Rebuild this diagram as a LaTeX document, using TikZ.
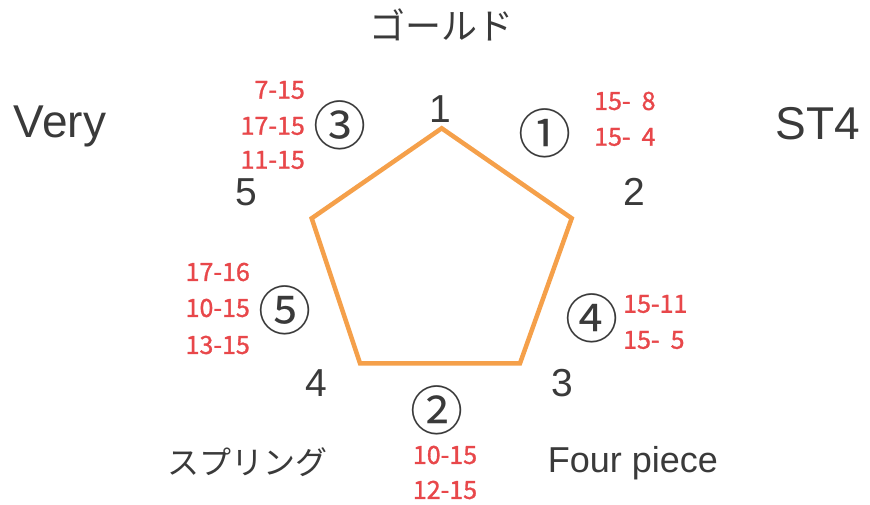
\documentclass[tikz,border=0pt]{standalone}
\usepackage{fontspec}
\setmainfont{Liberation Sans}
\newfontfamily\jpfont{Noto Sans CJK JP}
\newfontfamily\redfont[FakeBold=1.2]{Noto Sans CJK JP}
\definecolor{txtgray}{HTML}{3A3A3A}
\definecolor{scorered}{HTML}{E8474A}
\definecolor{penta}{HTML}{F5A04A}
\newcommand{\gapsp}{\hspace{11pt}}
\begin{document}
\begin{tikzpicture}[x=1pt,y=-1pt,
  big/.style={font=\fontsize{46}{46}\selectfont, text=txtgray, inner sep=0pt},
  num/.style={font=\fontsize{39}{39}\selectfont, text=txtgray, inner sep=0pt},
  circ/.style={font=\jpfont\fontsize{53}{53}\selectfont, text=txtgray, inner sep=0pt},
  jp/.style={font=\jpfont\fontsize{32}{32}\selectfont, text=txtgray, inner sep=0pt},
  score/.style={font=\redfont\fontsize{25}{25}\selectfont, text=scorered, inner sep=0pt, align=left},
  edge/.style={draw=penta, line width=4.5pt, line join=miter}]
\useasboundingbox (0,0) rectangle (870,505);
\fill[white] (0,0) rectangle (870,505);
% pentagon vertices
\coordinate (v1) at (441.7,128.3);
\coordinate (v2) at (571.7,218.3);
\coordinate (v3) at (520,363.3);
\coordinate (v4) at (360,363.3);
\coordinate (v5) at (311.7,218.3);
\draw[edge] (v1) -- (v2) -- (v3) -- (v4) -- (v5) -- cycle;
% vertex numbers
\node[num] (n1) at (440,109) {1};
\node[num] (n2) at (634,192) {2};
\node[num] (n3) at (562,383) {3};
\node[num] (n4) at (316,383) {4};
\node[num] (n5) at (246,192) {5};
% labels
\node[jp, font=\jpfont\fontsize{36}{36}\selectfont] (gold) at (441,25) {ゴールド};
\node[big] (very) at (60,126) {Very};
\node[big] (st4) at (818,124) {ST4};
\node[jp] (spring) at (247,462) {スプリング};
\node[font=\fontsize{36}{36}\selectfont, text=txtgray, inner sep=0pt] (four) at (633,463) {Four piece};
% circled numbers
\node[circ] (c1) at (545,133) {①};
\node[circ] (c2) at (437,410) {②};
\node[circ] (c3) at (340,125) {③};
\node[circ] (c4) at (592,318) {④};
\node[circ] (c5) at (285,310) {⑤};
% scores
\node[score, anchor=east] (s3a) at (305,90) {7-15};
\node[score, anchor=east] (s3b) at (305,126) {17-15};
\node[score, anchor=east] (s3c) at (305,160) {11-15};
\node[score, anchor=west] (s1a) at (594,101) {15-\gapsp8};
\node[score, anchor=west] (s1b) at (594,137) {15-\gapsp4};
\node[score, anchor=east] (s5a) at (250,272) {17-16};
\node[score, anchor=east] (s5b) at (250,308) {10-15};
\node[score, anchor=east] (s5c) at (250,345) {13-15};
\node[score, anchor=west] (s4a) at (623,304) {15-11};
\node[score, anchor=west] (s4b) at (623,340) {15-\gapsp5};
\node[score] (s2a) at (445,455) {10-15};
\node[score] (s2b) at (445,490) {12-15};
\end{tikzpicture}
\end{document}
